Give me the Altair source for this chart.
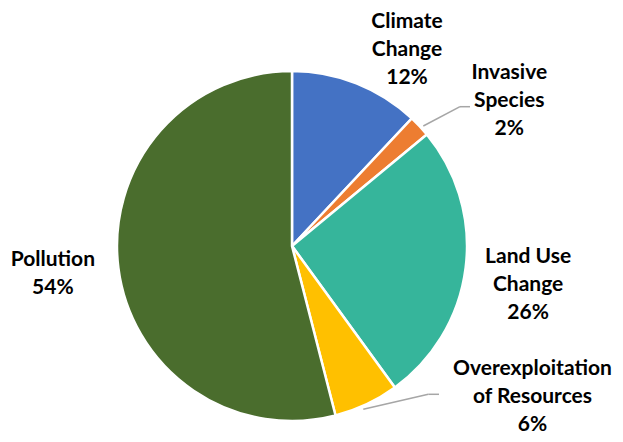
import altair as alt
import pandas as pd

categories = ["Climate Change", "Invasive Species", "Land Use Change",
              "Overexploitation of Resources", "Pollution"]
label_lines = ["Climate\nChange", "Invasive\nSpecies", "Land Use\nChange",
               "Overexploitation\nof Resources", "Pollution"]
values = [12, 2, 26, 6, 54]
colors = ["#4472C4", "#ED7D31", "#36B59B", "#FFC000", "#4A6D2D"]

df = pd.DataFrame({
    "category": categories,
    "value": values,
    "order": list(range(len(categories))),
    "label": [f"{l}\n{v}%" for l, v in zip(label_lines, values)],
})

CX, CY, R = 284, 238, 175
FONT = "Lato"

base = alt.Chart(df)
theta = alt.Theta("value:Q", stack=True)
order = alt.Order("order:Q")

pie = base.mark_arc(outerRadius=R, stroke="white", strokeWidth=2.5).encode(
    theta=theta,
    order=order,
    color=alt.Color("category:N", scale=alt.Scale(domain=categories, range=colors), legend=None),
    x=alt.value(CX), y=alt.value(CY),
)

# label placement: (radius, dx, dy) per category
placements = {
    "Climate Change": (231, 30, -9),
    "Invasive Species": (261, 27, 6),
    "Land Use Change": (238, 0, -19),
    "Overexploitation of Resources": (290, 117, -139),
    "Pollution": (240, -1, -16),
}

layers = [pie]
for cat, (rad, dx, dy) in placements.items():
    layers.append(
        base.mark_text(radius=rad, dx=dx, dy=dy, lineBreak="\n", font=FONT,
                       fontSize=21, fontWeight="bold", align="center",
                       baseline="middle", lineHeight=28, color="black").encode(
            theta=theta,
            order=order,
            text=alt.condition(alt.datum.category == cat, "label:N", alt.value("")),
            x=alt.value(CX), y=alt.value(CY),
        )
    )

leader_style = dict(color="#A6A6A6", strokeWidth=1.5)
leaders = [
    (415.3, 452, 118, 98.7), (452, 462, 98.7, 98.7),
    (355.3, 420.3, 401.3, 386.3), (420.3, 431, 386.3, 386.3),
]
for x1, x2, y1, y2 in leaders:
    layers.append(
        alt.Chart(pd.DataFrame({"a": [0]})).mark_rule(**leader_style).encode(
            x=alt.value(x1), x2=alt.value(x2), y=alt.value(y1), y2=alt.value(y2)
        )
    )

chart = alt.layer(*layers).properties(
    width=607, height=426, autosize="none", padding=0
).configure_view(stroke=None)

chart.save("out.html", embed_options={"renderer": "svg", "actions": False})
